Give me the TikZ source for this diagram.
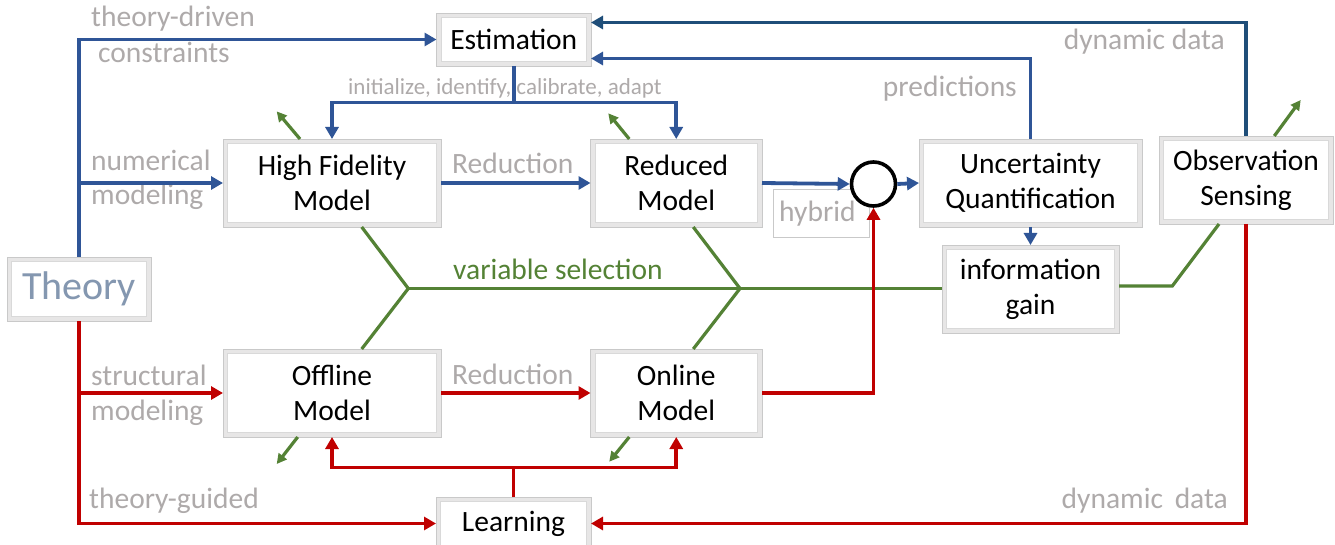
\documentclass[tikz,border=0pt]{standalone}
\usepackage{fontspec}
\setmainfont{Carlito}
\usetikzlibrary{arrows.meta}
\definecolor{cblue}{HTML}{2F5597}
\definecolor{cdblue}{HTML}{1F4E79}
\definecolor{cred}{HTML}{C00000}
\definecolor{cgreen}{HTML}{548235}
\definecolor{cgray}{HTML}{AEAAAA}
\definecolor{ctheory}{HTML}{8497B0}
\definecolor{cband}{HTML}{E7E6E6}
\definecolor{cedge}{HTML}{C9C9C9}
\tikzset{
 box/.style={draw=cedge, line width=0.8pt, fill=cband, inner sep=0pt, outer sep=0pt, align=center,
   font=\fontsize{29.5}{35}\selectfont,
   path picture={\fill[white,draw=cedge!70,line width=0.5pt] ([shift={(4.5pt,4.5pt)}]path picture bounding box.south west) rectangle ([shift={(-4.5pt,-4.5pt)}]path picture bounding box.north east);}},
 lbl/.style={text=cgray, font=\fontsize{29.5}{35}\selectfont, inner sep=0pt, anchor=base west},
 lblr/.style={lbl, anchor=base east},
 conn/.style={line width=3.8pt},
 bline/.style={conn, draw=cblue},
 barrow/.style={bline, -{Triangle[length=12pt,width=13pt]}},
 dbarrow/.style={conn, draw=cdblue, -{Triangle[length=12pt,width=13pt]}},
 rline/.style={conn, draw=cred},
 rarrow/.style={rline, -{Triangle[length=12pt,width=13pt]}},
 gline/.style={draw=cgreen, line width=3.2pt},
 garrow/.style={gline, -{Triangle[length=10pt,width=10pt]}},
}
\begin{document}
\begin{tikzpicture}[x=1pt,y=-1pt]
\useasboundingbox[fill=white] (0,0) rectangle (1335,545);
% boxes
\node[box, minimum width=154.5pt, minimum height=53pt] (est) at (513.75,39.5) {Estimation};
\node[box, minimum width=144pt, minimum height=64pt, text=ctheory, font=\fontsize{40}{44}\selectfont] (theory) at (79,289) {Theory};
\node[box, minimum width=218pt, minimum height=88pt] (hfm) at (332,183) {High Fidelity\\Model};
\node[box, minimum width=171.5pt, minimum height=88pt] (red) at (676.25,183) {Reduced\\Model};
\node[box, minimum width=223pt, minimum height=88pt] (uq) at (1030.5,183) {Uncertainty\\Quantification};
\node[box, minimum width=174pt, minimum height=88pt] (obs) at (1246,180) {Observation\\Sensing};
\node[box, minimum width=177pt, minimum height=88pt] (info) at (1030.5,289) {information\\gain};
\node[box, minimum width=218pt, minimum height=88pt] (off) at (332,393) {Offline\\Model};
\node[box, minimum width=171.5pt, minimum height=88pt] (onl) at (676.25,393) {Online\\Model};
\node[box, minimum width=155pt, minimum height=53pt] (learn) at (513.5,523.5) {Learning};
% hybrid box and circle
\node[draw=cedge, line width=0.8pt, minimum width=96pt, minimum height=48pt, inner sep=0pt] (hybox) at (821,213) {};
\node[lbl] (lhyb) at (779,221.7) {hybrid};
\node[circle, draw=black, line width=3.6pt, fill=white, minimum size=44pt, inner sep=0pt] (hyb) at (873.5,184) {};
% labels
\node[lbl] (l1) at (91,26.5) {theory-driven};
\node[lbl] (l2) at (98,62.7) {constraints};
\node[lbl] (l3) at (91,170.7) {numerical};
\node[lbl] (l4) at (91,205) {modeling};
\node[lbl, font=\fontsize{23}{27}\selectfont] (l5) at (348,95) {initialize, identify, calibrate, adapt};
\node[lbl] (l6) at (452,174) {Reduction};
\node[lblr] (l7) at (1017,96.7) {predictions};
\node[lblr] (l8) at (1225,50) {dynamic data};
\node[lbl, text=cgreen] (l10) at (453,279.3) {variable selection};
\node[lbl] (l11) at (91,385) {structural};
\node[lbl] (l12) at (91,420) {modeling};
\node[lbl] (l13) at (452,384) {Reduction};
\node[lbl] (l14) at (89,508.3) {theory-guided};
\node[lblr] (l15) at (1228,508.3) {dynamic\hspace{0.4em}data};
% green
\coordinate (g1) at (408.3,288.5);
\coordinate (g2) at (740,288.5);
\coordinate (gk) at (1172.3,286);
\draw[gline] ([xshift=29.7pt]hfm.south) -- (g1) -- ([xshift=29.7pt]off.north);
\draw[gline] ([xshift=17pt]red.south) -- (g2) -- ([xshift=17pt]onl.north);
\draw[gline] (g1) -- (g1 -| info.west);
\draw[gline] ([yshift=3pt]info.east) -- (gk) -- ([xshift=-27pt]obs.south);
\draw[garrow] ([xshift=-32pt]hfm.north) -- ++(-23.3,-27.6);
\draw[garrow] ([xshift=-47pt]red.north) -- ++(-21,-25.7);
\draw[garrow] ([xshift=-34.3pt]off.south) -- ++(-21,27);
\draw[garrow] ([xshift=-47pt]onl.south) -- ++(-20,24.7);
\draw[garrow] ([xshift=28.3pt]obs.north) -- ++(26.4,-36);
% blue
\coordinate (estb) at (513.75,102.5);
\draw[barrow] (theory.north) |- (est.west);
\draw[barrow] (theory.north |- hfm.west) -- (hfm.west);
\draw[bline] (est.south) -- (estb);
\draw[barrow] (estb) -| (hfm.north);
\draw[barrow] (estb) -| (red.north);
\draw[barrow] (hfm.east) -- (red.west);
\draw[barrow] (red.east) -- (hyb.west);
\draw[barrow] (hyb.east) -- (uq.west);
\draw[barrow] (uq.north) |- ([yshift=-19pt]est.east);
\draw[dbarrow] (obs.north) |- ([yshift=17pt]est.east);
\draw[barrow] (uq.south) -- (info.north);
% red
\coordinate (lb) at (513.5,467.5);
\draw[rarrow] (theory.south) |- (learn.west);
\draw[rarrow] (theory.south |- off.west) -- (off.west);
\draw[rarrow] (off.east) -- (onl.west);
\draw[rarrow] (onl.east) -| (hyb.south);
\draw[rline] (learn.north) -- (lb);
\draw[rarrow] (lb) -| (off.south);
\draw[rarrow] (lb) -| (onl.south);
\draw[rarrow] (obs.south) |- (learn.east);
\end{tikzpicture}
\end{document}
